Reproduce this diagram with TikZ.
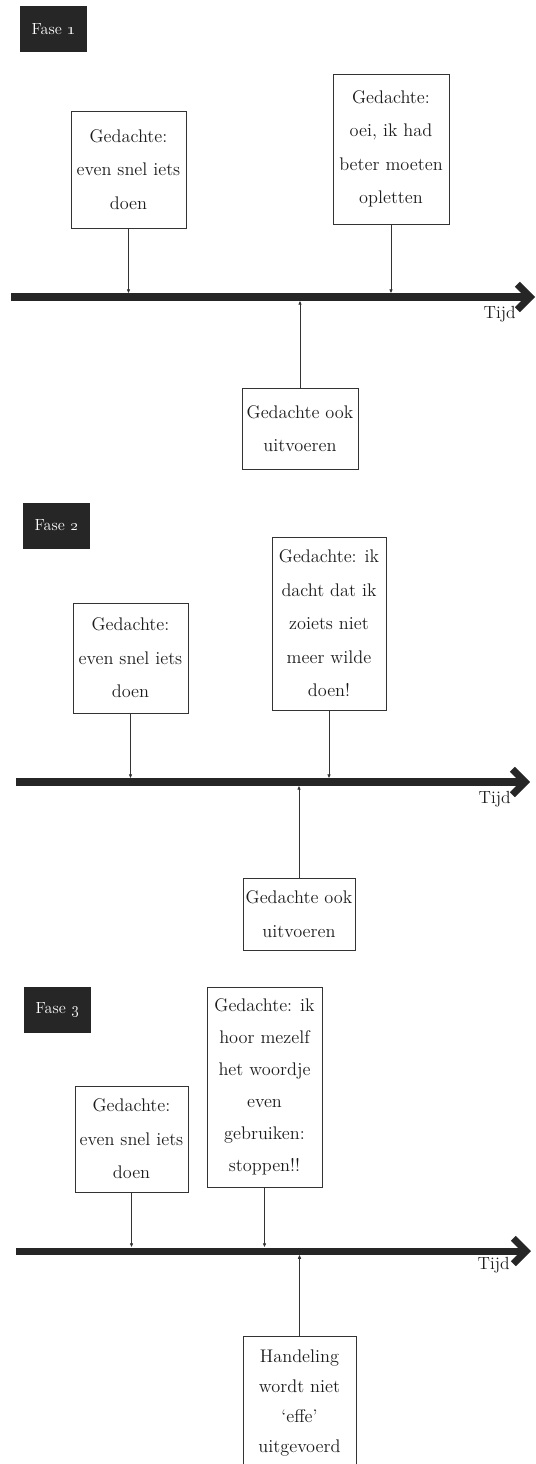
\documentclass[tikz,border=0pt]{standalone}
\usepackage{tikz}
\usetikzlibrary{arrows.meta}

\newlength{\pxunit}
\setlength{\pxunit}{0.025cm}

\definecolor{inkt}{HTML}{262626}
\definecolor{lijn}{HTML}{333333}
\definecolor{letter}{HTML}{1C1C1C}

\tikzset{
    gedachte/.style={draw=lijn, line width=0.7pt, align=center, text=letter, inner sep=0pt,
        font=\fontsize{13}{23.8}\selectfont},
    fase/.style={fill=inkt, text=white, minimum width=67\pxunit, minimum height=46\pxunit,
        font=\fontsize{11.5}{14}\selectfont},
    tijdlijn/.style={draw=inkt, line width=5pt, -{Straight Barb[length=9pt,width=18pt]}},
    pijl/.style={draw=lijn, line width=0.6pt, shorten >=2.5pt, -{Latex[length=3pt,width=2.6pt]}},
    tijd/.style={text=letter, font=\fontsize{12.5}{15}\selectfont, inner sep=0pt}
}

\begin{document}
\begin{tikzpicture}[x=0.025cm, y=-0.025cm]

            \useasboundingbox (0,0) rectangle (536,1464);
            \clip (0,0) rectangle (536,1464);

            \node (fase1) [fase] at (53.5,29.5) {Fase \oldstylenums{1}};

            \coordinate (start1) at (11,297);
            \coordinate (tip1) at (535,297);
            \draw [tijdlijn] (start1) -- (tip1);
            \node (tijd1) [tijd, anchor=base east, xshift=-19\pxunit, yshift=-21\pxunit] at (tip1) {Tijd};

            \node (a1) [gedachte, minimum width=115\pxunit, minimum height=117\pxunit] at (128.5,169.5) {Gedachte:\\even snel iets\\doen};
            \node (b1) [gedachte, minimum width=116\pxunit, minimum height=150\pxunit] at (391,149) {Gedachte:\\oei, ik had\\beter moeten\\opletten};
            \node (c1) [gedachte, minimum width=116\pxunit, minimum height=81\pxunit] at (300,428.5) {Gedachte ook\\uitvoeren};

            \draw [pijl] (a1) -- (a1 |- tip1);
            \draw [pijl] (b1) -- (b1 |- tip1);
            \draw [pijl] (c1) -- (c1 |- tip1);

            \node (fase2) [fase] at (56.5,525.5) {Fase \oldstylenums{2}};

            \coordinate (start2) at (16,782);
            \coordinate (tip2) at (530,782);
            \draw [tijdlijn] (start2) -- (tip2);
            \node (tijd2) [tijd, anchor=base east, xshift=-19\pxunit, yshift=-21\pxunit] at (tip2) {Tijd};

            \node (a2) [gedachte, minimum width=115\pxunit, minimum height=110\pxunit] at (130.5,658) {Gedachte:\\even snel iets\\doen};
            \node (b2) [gedachte, minimum width=114\pxunit, minimum height=173\pxunit] at (329,623.5) {Gedachte: ik\\dacht dat ik\\zoiets niet\\meer wilde\\doen!};
            \node (c2) [gedachte, minimum width=112\pxunit, minimum height=72\pxunit] at (299,914) {Gedachte ook\\uitvoeren};

            \draw [pijl] (a2) -- (a2 |- tip2);
            \draw [pijl] (b2) -- (b2 |- tip2);
            \draw [pijl] (c2) -- (c2 |- tip2);

            \node (fase3) [fase] at (57.5,1010) {Fase \oldstylenums{3}};

            \coordinate (start3) at (16,1251);
            \coordinate (tip3) at (531,1251);
            \draw [tijdlijn] (start3) -- (tip3);
            \node (tijd3) [tijd, anchor=base east, xshift=-21\pxunit, yshift=-18\pxunit] at (tip3) {Tijd};

            \node (a3) [gedachte, minimum width=113\pxunit, minimum height=106\pxunit] at (131.5,1139) {Gedachte:\\even snel iets\\doen};
            \node (b3) [gedachte, minimum width=115\pxunit, minimum height=200\pxunit, font=\fontsize{13}{22.8}\selectfont] at (264.5,1087) {Gedachte: ik\\hoor mezelf\\het woordje\\even\\gebruiken:\\stoppen!!};
            \node (c3) [gedachte, minimum width=113\pxunit, minimum height=134\pxunit, font=\fontsize{13}{21.3}\selectfont] at (299.5,1403) {Handeling\\wordt niet\\`effe'\\uitgevoerd};

            \draw [pijl] (a3) -- (a3 |- tip3);
            \draw [pijl] (b3) -- (b3 |- tip3);
            \draw [pijl] (c3) -- (c3 |- tip3);

\end{tikzpicture}
\end{document}
